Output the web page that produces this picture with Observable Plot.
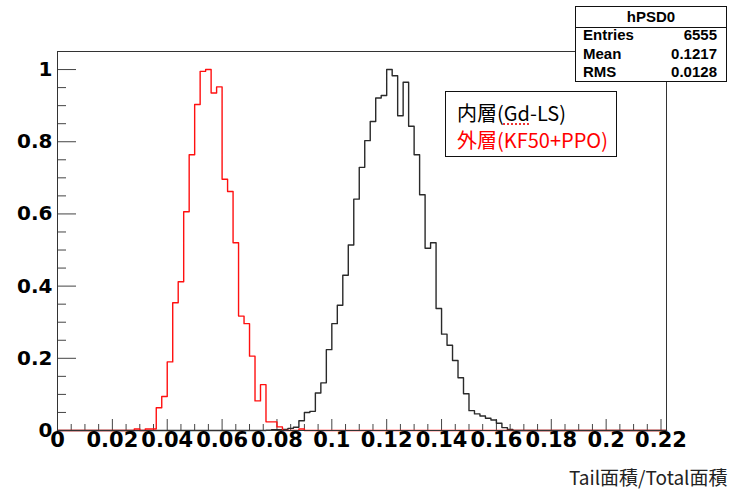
<!DOCTYPE html>
<html>
<head>
<meta charset="utf-8">
<script src="https://cdn.jsdelivr.net/npm/d3@7"></script>
<script src="https://cdn.jsdelivr.net/npm/@observablehq/plot@0.6"></script>
<style>
  html, body { margin: 0; padding: 0; background: #fff; }
  #wrap { position: relative; width: 731px; height: 503px; overflow: hidden; }
  #stats { position: absolute; left: 575px; top: 6px; width: 150px; height: 74px;
           border: 1px solid #111; background: #fff; font: bold 15px "Liberation Sans", Arial, sans-serif; color: #000; }
  #stats .t { position: absolute; left: 0; right: 0; top: 0; height: 20px; line-height: 20px; text-align: center; }
  #stats .sep { position: absolute; left: 0; right: 0; top: 20px; border-top: 1px solid #111; }
  #stats .row { position: absolute; left: 7px; right: 9px; height: 18px; line-height: 18px;
                display: flex; justify-content: space-between; }
  #legend { position: absolute; left: 445px; top: 91px; width: 170px; height: 64px;
            border: 1px solid #111; background: #fff; font: 20px "Noto Sans CJK JP", sans-serif; }
  #legend .l { position: absolute; left: 11px; height: 26px; line-height: 26px; white-space: nowrap; }
  .sp { text-decoration: underline dotted #e33; text-decoration-thickness: 2px; text-underline-offset: 3px; }
</style>
</head>
<body>
<div id="wrap"></div>
<script>
// ---- data ----
const binWidth = 0.002;
const xMax = 0.222;
// outer layer (red), bins 0..110
const redValues = [
  0,0,0,0,0,0,0,0,0,0,
  0,0,0,0,0.004,0,0.004,0.004,0.063,0.094,
  0.19,0.354,0.412,0.606,0.764,0.903,0.995,1.0,0.935,0.952,
  0.696,0.662,0.52,0.317,0.296,0.206,0.082,0.127,0.024,0.024,
  0.01,0,0,0,0.004,0,0,0,0,0,
  0,0,0,0,0,0,0,0,0,0,
  0,0,0,0,0,0,0,0,0,0,
  0,0,0,0,0,0,0,0,0,0,
  0,0,0,0,0,0,0,0,0,0,
  0,0,0,0,0,0,0,0,0,0,
  0,0,0,0,0,0,0,0,0,0,
  0
];
// inner layer (black), bins 0..110
const blackValues = [
  0,0,0,0,0,0,0,0,0,0,
  0,0,0,0,0,0,0,0,0,0,
  0,0,0,0,0,0,0,0,0,0,
  0,0,0,0,0,0,0,0,0.001,0.002,
  0.002,0.003,0.006,0.009,0.027,0.05,0.053,0.104,0.132,0.224,
  0.296,0.347,0.43,0.514,0.641,0.729,0.803,0.856,0.921,0.928,
  1.0,0.983,0.872,0.965,0.843,0.764,0.653,0.505,0.52,0.338,
  0.267,0.236,0.194,0.146,0.102,0.055,0.046,0.04,0.034,0.029,
  0.02,0.008,0.003,0,0,0,0,0,0,0,
  0,0,0,0,0,0,0,0,0,0,
  0,0,0,0,0,0,0,0,0,0,
  0
];
const xTickValues = [0,0.02,0.04,0.06,0.08,0.1,0.12,0.14,0.16,0.18,0.2,0.22];
const xTickLabels = ["0","0.02","0.04","0.06","0.08","0.1","0.12","0.14","0.16","0.18","0.2","0.22"];
const yTickValues = [0,0.2,0.4,0.6,0.8,1];
const yTickLabels = ["0","0.2","0.4","0.6","0.8","1"];
const xTitle = "Tail面積/Total面積";
const statsTitle = "hPSD0";
const statsRows = [["Entries","6555"],["Mean","0.1217"],["RMS","0.0128"]];

// ---- build tables ----
function steps(values) {
  const pts = values.map((v, k) => ({x: k * binWidth, y: v}));
  pts.push({x: xMax, y: values[values.length - 1]});
  return pts;
}
const redSteps = steps(redValues);
const blackSteps = steps(blackValues);
const xMinor = d3.range(0, 45).map(i => i * 0.005).filter(v => v <= xMax && Math.abs(v / 0.02 - Math.round(v / 0.02)) > 1e-6);
const yMinor = d3.range(0, 21).map(i => i * 0.05).filter(v => Math.abs(v / 0.2 - Math.round(v / 0.2)) > 1e-6);
const xTicks = xTickValues.map((v, i) => ({v, label: xTickLabels[i]}));
const yTicks = yTickValues.map((v, i) => ({v, label: yTickLabels[i]}));

const W = 731, H = 503, mL = 57, mR = 65, mT = 51, mB = 73;
const plotH = H - mT - mB, plotW = W - mL - mR;

const chart = Plot.plot({
  width: W, height: H,
  marginLeft: mL, marginRight: mR, marginTop: mT, marginBottom: mB,
  x: {domain: [0, xMax], axis: null},
  y: {domain: [0, 1.05], axis: null},
  style: {background: "#fff", overflow: "visible"},
  marks: [
    Plot.ruleX(xTickValues, {x: d => d, insetTop: plotH - 11, stroke: "#444", strokeWidth: 1}),
    Plot.ruleX(xMinor, {x: d => d, insetTop: plotH - 6, stroke: "#444", strokeWidth: 1}),
    Plot.ruleY(yTickValues, {y: d => d, insetRight: plotW - 19, stroke: "#444", strokeWidth: 1}),
    Plot.ruleY(yMinor, {y: d => d, insetRight: plotW - 9, stroke: "#444", strokeWidth: 1}),
    Plot.line(blackSteps, {x: "x", y: "y", curve: "step-after", stroke: "#2a2a2a", strokeWidth: 1.4}),
    Plot.line(redSteps, {x: "x", y: "y", curve: "step-after", stroke: "#ff1010", strokeWidth: 1.4}),
    Plot.frame({stroke: "#333", strokeWidth: 1}),
    Plot.text(yTicks, {y: "v", text: "label", frameAnchor: "left", dx: -5, textAnchor: "end",
      fontFamily: "DejaVu Sans", fontWeight: "bold", fontSize: 20, fill: "#000"}),
    Plot.text(xTicks, {x: "v", text: "label", frameAnchor: "bottom", dy: 16,
      fontFamily: "DejaVu Sans", fontWeight: "bold", fontSize: 21, fill: "#000"}),
    Plot.text([xTitle], {text: d => d, frameAnchor: "bottom-right", dx: 61, dy: 54, textAnchor: "end",
      fontFamily: "Noto Sans CJK JP", fontSize: 19, fill: "#222"})
  ]
});

const wrap = document.getElementById("wrap");
wrap.appendChild(chart);

// stats box
const stats = document.createElement("div");
stats.id = "stats";
const t = document.createElement("div"); t.className = "t"; t.textContent = statsTitle; stats.appendChild(t);
const sep = document.createElement("div"); sep.className = "sep"; stats.appendChild(sep);
const rowTops = [19, 37.5, 56];
statsRows.forEach((r, i) => {
  const row = document.createElement("div"); row.className = "row"; row.style.top = rowTops[i] + "px";
  const a = document.createElement("span"); a.textContent = r[0];
  const b = document.createElement("span"); b.textContent = r[1];
  row.appendChild(a); row.appendChild(b); stats.appendChild(row);
});
wrap.appendChild(stats);

// legend box
const legend = document.createElement("div");
legend.id = "legend";
legend.innerHTML =
  '<div class="l" style="top:7.5px;color:#000">内層(<span class="sp">Gd</span>-LS)</div>' +
  '<div class="l" style="top:35px;color:#ff0000">外層(KF50+PPO)</div>';
wrap.appendChild(legend);
</script>
</body>
</html>
